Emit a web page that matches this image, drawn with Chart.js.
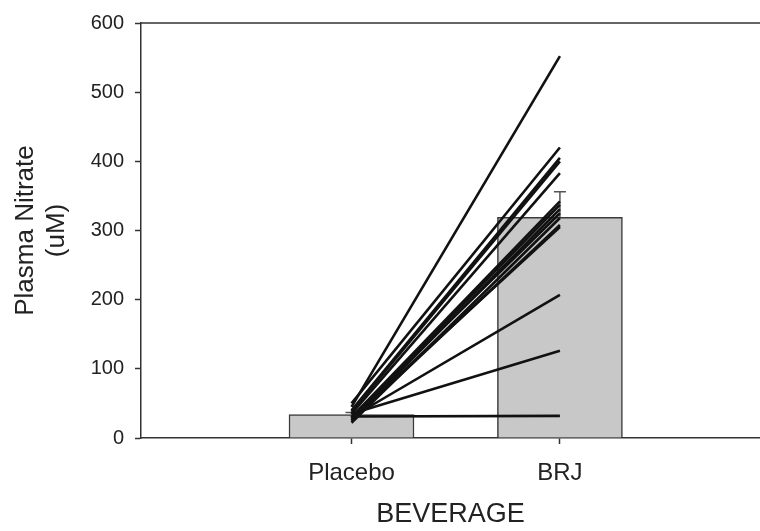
<!DOCTYPE html>
<html>
<head>
<meta charset="utf-8">
<script src="https://cdn.jsdelivr.net/npm/chart.js@4/dist/chart.umd.min.js"></script>
<style>
  body { margin: 0; background: #fff; }
</style>
</head>
<body>
<canvas id="nitrateChart" width="760" height="531"></canvas>
<script>
// categories and group summaries
const beverages = ['Placebo', 'BRJ'];
const meanNitrate = [34, 319];
const semNitrate = [3, 37];

// individual subjects, placebo -> BRJ
const placeboNitrate = [45, 50, 40, 38, 35, 30, 28, 25, 30, 22, 25, 28, 30, 35, 31];
const brjNitrate = [552, 420, 405, 400, 383, 342, 337, 331, 325, 318, 308, 305, 207, 126, 32];

const yTicks = [0, 100, 200, 300, 400, 500, 600];

const axisColor = '#333';
const textColor = '#222';

const subjectLines = placeboNitrate.map((p, i) => ({
  type: 'line',
  data: [{ x: 1, y: p }, { x: 2, y: brjNitrate[i] }],
  borderColor: '#111',
  borderWidth: 2.6,
  pointRadius: 0,
  fill: false,
  order: 1
}));

// error bars (upper only) + top frame line
const errorBars = {
  id: 'errorBars',
  afterDatasetDraw(chart, args) {
    if (args.index !== 0) return;
    const { ctx, scales: { x, y } } = chart;
    ctx.save();
    ctx.strokeStyle = '#555';
    ctx.lineWidth = 1.5;
    meanNitrate.forEach((m, i) => {
      const px = x.getPixelForValue(i + 1);
      const top = y.getPixelForValue(m + semNitrate[i]);
      ctx.beginPath();
      ctx.moveTo(px, y.getPixelForValue(m));
      ctx.lineTo(px, top);
      ctx.moveTo(px - 6, top);
      ctx.lineTo(px + 6, top);
      ctx.stroke();
    });
    ctx.restore();
  },
  afterDraw(chart) {
    const { ctx, chartArea } = chart;
    ctx.save();
    ctx.strokeStyle = axisColor;
    ctx.lineWidth = 1.5;
    ctx.beginPath();
    ctx.moveTo(chartArea.left, chartArea.top);
    ctx.lineTo(chartArea.right, chartArea.top);
    ctx.stroke();
    ctx.restore();
  }
};

const ctx = document.getElementById('nitrateChart').getContext('2d');
new Chart(ctx, {
  type: 'bar',
  data: {
    datasets: [{
      type: 'bar',
      data: meanNitrate.map((m, i) => ({ x: i + 1, y: m })),
      backgroundColor: '#c8c8c8',
      borderColor: '#3a3a3a',
      borderWidth: 1.5,
      barThickness: 125,
      order: 2
    }, ...subjectLines]
  },
  options: {
    responsive: false,
    animation: false,
    layout: { padding: { top: 18, left: 0, right: 0, bottom: 0 } },
    plugins: { legend: { display: false }, tooltip: { enabled: false } },
    scales: {
      x: {
        type: 'linear',
        min: -0.01,
        max: 2.96,
        offset: false,
        afterBuildTicks: s => { s.ticks = beverages.map((b, i) => ({ value: i + 1 })); },
        afterFit: s => { s.height = 93; },
        ticks: {
          callback: v => beverages[v - 1],
          font: { family: 'Liberation Sans', size: 24 },
          color: textColor,
          padding: 15,
          maxRotation: 0
        },
        grid: { offset: false, drawOnChartArea: false, drawTicks: true, tickLength: 6, tickColor: axisColor, tickWidth: 1.5 },
        border: { color: axisColor, width: 1.5 },
        title: {
          display: true,
          text: 'BEVERAGE',
          font: { family: 'Liberation Sans', size: 27 },
          color: textColor,
          padding: { top: 0, bottom: 0 }
        }
      },
      y: {
        min: 0,
        max: 600,
        afterBuildTicks: s => { s.ticks = yTicks.map(v => ({ value: v })); },
        afterFit: s => { s.width = 141; },
        ticks: {
          font: { family: 'Liberation Sans', size: 20 },
          color: textColor,
          padding: 11
        },
        grid: { drawOnChartArea: false, drawTicks: true, tickLength: 6, tickColor: axisColor, tickWidth: 1.5 },
        border: { color: axisColor, width: 1.5 },
        title: {
          display: true,
          text: ['Plasma Nitrate', '(uM)'],
          font: { family: 'Liberation Sans', size: 26, lineHeight: 1.2 },
          color: textColor,
          padding: { top: 10, bottom: 0 }
        }
      }
    }
  },
  plugins: [errorBars]
});
</script>
</body>
</html>
